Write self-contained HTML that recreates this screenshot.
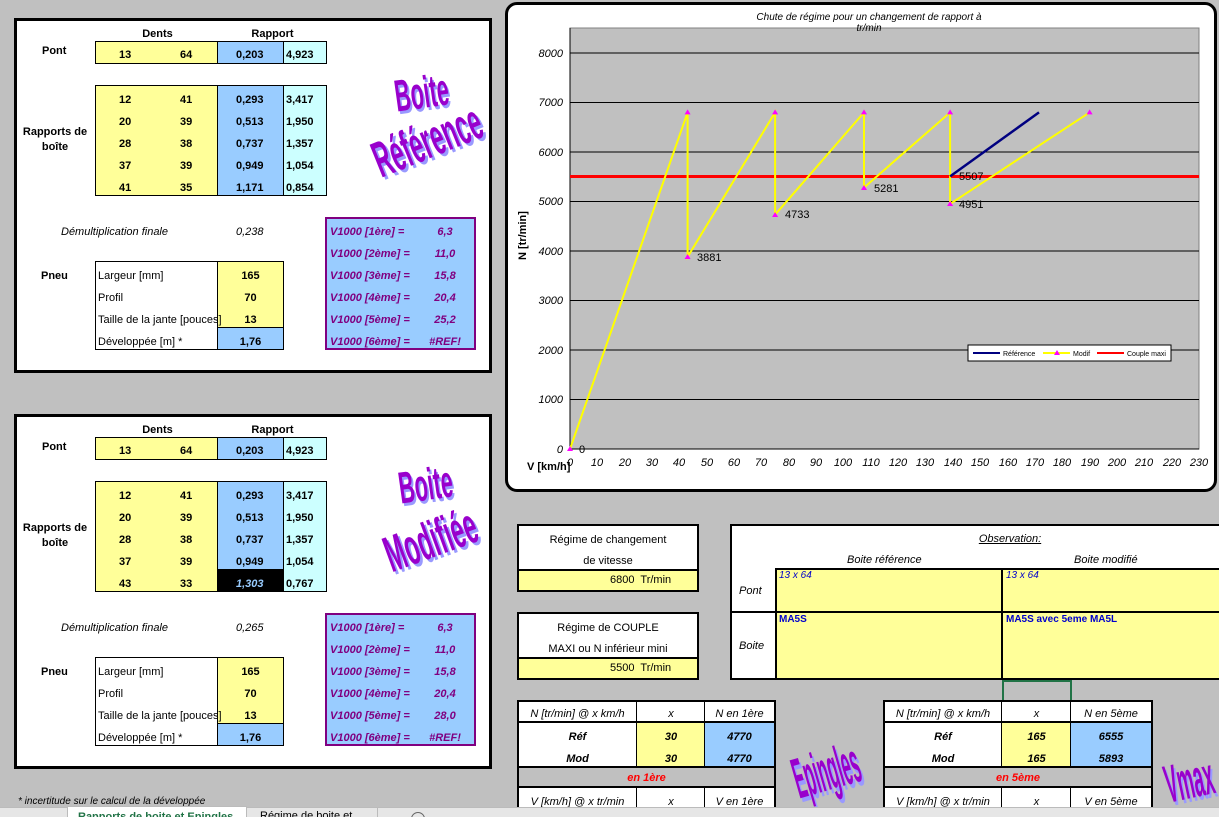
<!DOCTYPE html>
<html><head><meta charset="utf-8"><style>
*{margin:0;padding:0;box-sizing:border-box}
html{width:1219px;height:817px;overflow:hidden}
body{width:1219px;height:817px;background:#c0c0c0;position:relative;overflow:hidden;font-family:"Liberation Sans",Arial,sans-serif;font-size:11px;color:#000}
.a{position:absolute}
.b{font-weight:bold}
.i{font-style:italic}
.panel{position:absolute;left:14px;width:478px;height:355px;background:#fff;border:3px solid #000}
.y{background:#ffff99}.bl{background:#99ccff}.cy{background:#ccffff}
.c{text-align:center}
.wa{position:absolute;font-family:"Liberation Sans Narrow","Liberation Sans",sans-serif;font-weight:bold;color:#9900cc;text-shadow:2px 2px 0 #9999ff;line-height:1;white-space:nowrap}
.box{position:absolute;border:2px solid #000;background:#fff}
</style></head><body>

<div class="panel" style="top:18px"></div>
<div class="panel" style="top:414px"></div>

<div class="a" style="left:0;top:0;width:500px;height:400px">
<div class="a b c" style="left:120px;top:28px;width:75px">Dents</div>
<div class="a b c" style="left:235px;top:28px;width:75px">Rapport</div>
<div class="a b" style="left:42px;top:45px">Pont</div>
<div class="a y" style="left:95px;top:41px;width:122px;height:23px;border:1px solid #000;border-right:none"></div>
<div class="a bl" style="left:217px;top:41px;width:67px;height:23px;border:1px solid #000"></div>
<div class="a cy" style="left:283px;top:41px;width:44px;height:23px;border:1px solid #000"></div>
<div class="a b" style="left:119px;top:49px">13</div><div class="a b" style="left:180px;top:49px">64</div>
<div class="a b" style="left:236px;top:49px">0,203</div><div class="a b" style="left:286px;top:49px">4,923</div>

<div class="a b c" style="left:15px;top:125px;width:80px;line-height:15px">Rapports de<br>boîte</div>
<div class="a y" style="left:95px;top:85px;width:122px;height:111px;border:1px solid #000;border-right:none"></div>
<div class="a bl" style="left:217px;top:85px;width:67px;height:111px;border:1px solid #000"></div>
<div class="a cy" style="left:283px;top:85px;width:44px;height:111px;border:1px solid #000"></div>
<div class="a b" style="left:119px;top:89px;line-height:22px">12<br>20<br>28<br>37<br>41</div>
<div class="a b" style="left:180px;top:89px;line-height:22px">41<br>39<br>38<br>39<br>35</div>
<div class="a b" style="left:236px;top:89px;line-height:22px">0,293<br>0,513<br>0,737<br>0,949<br>1,171</div>
<div class="a b" style="left:286px;top:89px;line-height:22px">3,417<br>1,950<br>1,357<br>1,054<br>0,854</div>

<div class="a i" style="left:61px;top:226px">Démultiplication finale</div>
<div class="a i" style="left:236px;top:226px">0,238</div>
<div class="a b" style="left:41px;top:270px">Pneu</div>
<div class="a" style="left:95px;top:261px;width:122px;height:89px;border:1px solid #000;border-right:none"></div>
<div class="a y" style="left:217px;top:261px;width:67px;height:67px;border:1px solid #000;border-bottom:none"></div>
<div class="a bl" style="left:217px;top:327px;width:67px;height:23px;border:1px solid #000"></div>
<div class="a" style="left:98px;top:265px;line-height:22px">Largeur [mm]<br>Profil<br>Taille de la jante [pouces]<br>Développée [m] *</div>
<div class="a b c" style="left:217px;top:265px;width:67px;line-height:22px">165<br>70<br>13<br>1,76</div>
<div class="a bl" style="left:325px;top:217px;width:151px;height:133px;border:2px solid #800080"></div>
<div class="a b i" style="left:330px;top:221px;line-height:22px;color:#800080">V1000 [1ère] =<br>V1000 [2ème] =<br>V1000 [3ème] =<br>V1000 [4ème] =<br>V1000 [5ème] =<br>V1000 [6ème] =</div>
<div class="a b i c" style="left:420px;top:221px;width:50px;line-height:22px;color:#800080">6,3<br>11,0<br>15,8<br>20,4<br>25,2<br>#REF!</div>
<div class="wa" style="left:392px;top:76px;font-size:30px;transform:rotate(-8deg) scale(0.72,1.5);transform-origin:left top">Boite</div>
<div class="wa" style="left:366px;top:140px;font-size:30px;transform:rotate(-22deg) scale(0.78,1.7);transform-origin:left top">Référence</div>
</div>

<div class="a" style="left:0;top:396px;width:500px;height:400px">
<div class="a b c" style="left:120px;top:28px;width:75px">Dents</div>
<div class="a b c" style="left:235px;top:28px;width:75px">Rapport</div>
<div class="a b" style="left:42px;top:45px">Pont</div>
<div class="a y" style="left:95px;top:41px;width:122px;height:23px;border:1px solid #000;border-right:none"></div>
<div class="a bl" style="left:217px;top:41px;width:67px;height:23px;border:1px solid #000"></div>
<div class="a cy" style="left:283px;top:41px;width:44px;height:23px;border:1px solid #000"></div>
<div class="a b" style="left:119px;top:49px">13</div><div class="a b" style="left:180px;top:49px">64</div>
<div class="a b" style="left:236px;top:49px">0,203</div><div class="a b" style="left:286px;top:49px">4,923</div>

<div class="a b c" style="left:15px;top:125px;width:80px;line-height:15px">Rapports de<br>boîte</div>
<div class="a y" style="left:95px;top:85px;width:122px;height:111px;border:1px solid #000;border-right:none"></div>
<div class="a bl" style="left:217px;top:85px;width:67px;height:111px;border:1px solid #000"></div>
<div class="a" style="left:218px;top:173px;width:65px;height:22px;background:#000"></div>
<div class="a cy" style="left:283px;top:85px;width:44px;height:111px;border:1px solid #000"></div>
<div class="a b" style="left:119px;top:89px;line-height:22px">12<br>20<br>28<br>37<br>43</div>
<div class="a b" style="left:180px;top:89px;line-height:22px">41<br>39<br>38<br>39<br>33</div>
<div class="a b" style="left:236px;top:89px;line-height:22px">0,293<br>0,513<br>0,737<br>0,949<br><span class="i" style="color:#99ccff">1,303</span></div>
<div class="a b" style="left:286px;top:89px;line-height:22px">3,417<br>1,950<br>1,357<br>1,054<br>0,767</div>

<div class="a i" style="left:61px;top:226px">Démultiplication finale</div>
<div class="a i" style="left:236px;top:226px">0,265</div>
<div class="a b" style="left:41px;top:270px">Pneu</div>
<div class="a" style="left:95px;top:261px;width:122px;height:89px;border:1px solid #000;border-right:none"></div>
<div class="a y" style="left:217px;top:261px;width:67px;height:67px;border:1px solid #000;border-bottom:none"></div>
<div class="a bl" style="left:217px;top:327px;width:67px;height:23px;border:1px solid #000"></div>
<div class="a" style="left:98px;top:265px;line-height:22px">Largeur [mm]<br>Profil<br>Taille de la jante [pouces]<br>Développée [m] *</div>
<div class="a b c" style="left:217px;top:265px;width:67px;line-height:22px">165<br>70<br>13<br>1,76</div>
<div class="a bl" style="left:325px;top:217px;width:151px;height:133px;border:2px solid #800080"></div>
<div class="a b i" style="left:330px;top:221px;line-height:22px;color:#800080">V1000 [1ère] =<br>V1000 [2ème] =<br>V1000 [3ème] =<br>V1000 [4ème] =<br>V1000 [5ème] =<br>V1000 [6ème] =</div>
<div class="a b i c" style="left:420px;top:221px;width:50px;line-height:22px;color:#800080">6,3<br>11,0<br>15,8<br>20,4<br>28,0<br>#REF!</div>
<div class="wa" style="left:396px;top:72px;font-size:30px;transform:rotate(-8deg) scale(0.72,1.5);transform-origin:left top">Boite</div>
<div class="wa" style="left:378px;top:138px;font-size:30px;transform:rotate(-20deg) scale(0.78,1.7);transform-origin:left top">Modifiée</div>
</div>

<div class="a" style="left:505px;top:2px;width:712px;height:490px;background:#fff;border:3px solid #000;border-radius:12px"></div>
<svg class="a" style="left:0;top:0" width="1219" height="817" font-family="Liberation Sans, sans-serif">
<rect x="570" y="28" width="629" height="421" fill="#c0c0c0" stroke="#808080"/>
<g stroke="#000" stroke-width="1">
<line x1="570" x2="1199" y1="399.5" y2="399.5"/><line x1="570" x2="1199" y1="350" y2="350"/>
<line x1="570" x2="1199" y1="300.5" y2="300.5"/><line x1="570" x2="1199" y1="251" y2="251"/>
<line x1="570" x2="1199" y1="201.5" y2="201.5"/><line x1="570" x2="1199" y1="152" y2="152"/>
<line x1="570" x2="1199" y1="102.5" y2="102.5"/><line x1="570" x2="1199" y1="53" y2="53"/>
<line x1="570" x2="1199" y1="449" y2="449"/><line x1="570" x2="570" y1="28" y2="449"/>
</g>
<g font-size="11" font-style="italic" text-anchor="end">
<text x="563" y="453">0</text><text x="563" y="403">1000</text><text x="563" y="354">2000</text>
<text x="563" y="304">3000</text><text x="563" y="255">4000</text><text x="563" y="205">5000</text>
<text x="563" y="156">6000</text><text x="563" y="106">7000</text><text x="563" y="57">8000</text>
</g>
<g font-size="11" font-style="italic" text-anchor="middle">
<text x="570" y="466">0</text><text x="597" y="466">10</text><text x="625" y="466">20</text><text x="652" y="466">30</text><text x="679" y="466">40</text><text x="707" y="466">50</text><text x="734" y="466">60</text><text x="761" y="466">70</text><text x="789" y="466">80</text><text x="816" y="466">90</text><text x="843" y="466">100</text><text x="871" y="466">110</text><text x="898" y="466">120</text><text x="925" y="466">130</text><text x="953" y="466">140</text><text x="980" y="466">150</text><text x="1008" y="466">160</text><text x="1035" y="466">170</text><text x="1062" y="466">180</text><text x="1090" y="466">190</text><text x="1117" y="466">200</text><text x="1144" y="466">210</text><text x="1172" y="466">220</text><text x="1199" y="466">230</text>
</g>
<text x="869" y="20" font-size="10" font-style="italic" text-anchor="middle">Chute de régime pour un changement de rapport à</text>
<text x="869" y="31" font-size="10" font-style="italic" text-anchor="middle">tr/min</text>
<text x="527" y="470" font-size="11" font-weight="bold">V [km/h]</text>
<text transform="translate(526,260) rotate(-90)" font-size="11" font-weight="bold">N [tr/min]</text>
<line x1="570" x2="1199" y1="176.5" y2="176.5" stroke="#ff0000" stroke-width="3"/>
<polyline fill="none" stroke="#ffff00" stroke-width="2" points="570,449 687.6,112.4 687.6,256.9 775.1,112.4 775.1,214.7 864,112.4 864,187.6 950.1,112.4 950.1,203.9 1089.6,112.4"/>
<line x1="950.1" y1="176.4" x2="1039" y2="112.4" stroke="#000080" stroke-width="2.5"/>
<g fill="#ff00ff">
<path d="M570,446 l3,5 h-6z"/><path d="M687.6,109.4 l3,5 h-6z"/><path d="M687.6,254 l3,5 h-6z"/><path d="M775.1,109.4 l3,5 h-6z"/><path d="M775.1,212 l3,5 h-6z"/><path d="M864,109.4 l3,5 h-6z"/><path d="M864,185 l3,5 h-6z"/><path d="M950.1,109.4 l3,5 h-6z"/><path d="M950.1,201 l3,5 h-6z"/><path d="M1089.6,109.4 l3,5 h-6z"/>
</g>
<g font-size="11">
<text x="579" y="453">0</text><text x="697" y="261">3881</text><text x="785" y="218">4733</text><text x="874" y="192">5281</text><text x="959" y="180">5507</text><text x="959" y="208">4951</text>
</g>
<rect x="968" y="345" width="203" height="16" fill="#fff" stroke="#000"/>
<line x1="973" x2="1000" y1="353" y2="353" stroke="#000080" stroke-width="2"/>
<text x="1003" y="356" font-size="7">Référence</text>
<line x1="1043" x2="1070" y1="353" y2="353" stroke="#ffff00" stroke-width="2"/>
<path d="M1057,350 l3,5 h-6z" fill="#ff00ff"/>
<text x="1073" y="356" font-size="7">Modif</text>
<line x1="1097" x2="1124" y1="353" y2="353" stroke="#ff0000" stroke-width="2"/>
<text x="1127" y="356" font-size="7">Couple maxi</text>
</svg>

<div class="box" style="left:517px;top:524px;width:182px;height:68px"></div>
<div class="a y" style="left:519px;top:569px;width:178px;height:21px;border-top:2px solid #000"></div>
<div class="a c" style="left:517px;top:530px;width:182px;line-height:21px">Régime de changement<br>de vitesse</div>
<div class="a" style="left:610px;top:574px">6800&nbsp; Tr/min</div>

<div class="box" style="left:517px;top:612px;width:182px;height:68px"></div>
<div class="a y" style="left:519px;top:657px;width:178px;height:21px;border-top:2px solid #000"></div>
<div class="a c" style="left:517px;top:618px;width:182px;line-height:21px">Régime de COUPLE<br>MAXI ou N inférieur mini</div>
<div class="a" style="left:610px;top:662px">5500&nbsp; Tr/min</div>

<div class="box" style="left:730px;top:524px;width:492px;height:156px"></div>
<div class="a y" style="left:775px;top:568px;width:444px;height:110px;border-top:2px solid #000;border-left:2px solid #000"></div>
<div class="a" style="left:732px;top:611px;width:487px;border-top:2px solid #000"></div>
<div class="a" style="left:1001px;top:568px;height:110px;border-left:2px solid #000"></div>
<div class="a i c" style="left:930px;top:533px;width:160px;text-decoration:underline">Observation:</div>
<div class="a i" style="left:847px;top:554px">Boite référence</div>
<div class="a i" style="left:1074px;top:554px">Boite modifié</div>
<div class="a i" style="left:739px;top:585px">Pont</div>
<div class="a i" style="left:739px;top:640px">Boite</div>
<div class="a i" style="left:779px;top:570px;color:#0000cc;font-size:10px">13 x 64</div>
<div class="a i" style="left:1006px;top:570px;color:#0000cc;font-size:10px">13 x 64</div>
<div class="a b" style="left:779px;top:614px;color:#0000cc;font-size:10px">MA5S</div>
<div class="a b" style="left:1006px;top:614px;color:#0000cc;font-size:10px">MA5S avec 5eme MA5L</div>
<div class="a" style="left:1002px;top:680px;width:70px;height:22px;border:2px solid #217346"></div>

<div class="box" style="left:517px;top:700px;width:259px;height:130px;background:#fff"></div>
<div class="a y" style="left:637px;top:722px;width:68px;height:44px"></div>
<div class="a bl" style="left:705px;top:722px;width:69px;height:44px"></div>
<div class="a" style="left:519px;top:766px;width:255px;height:22px;background:#c0c0c0;border-top:2px solid #000;border-bottom:2px solid #000"></div>
<div class="a" style="left:519px;top:721px;width:255px;border-top:2px solid #000"></div>
<div class="a" style="left:636px;top:700px;height:66px;border-left:1px solid #000"></div>
<div class="a" style="left:704px;top:700px;height:66px;border-left:1px solid #000"></div>
<div class="a" style="left:636px;top:788px;height:30px;border-left:1px solid #000"></div>
<div class="a" style="left:704px;top:788px;height:30px;border-left:1px solid #000"></div>
<div class="a i c" style="left:519px;top:708px;width:117px">N [tr/min] @ x km/h</div>
<div class="a i c" style="left:637px;top:708px;width:68px">x</div>
<div class="a i c" style="left:705px;top:708px;width:69px">N en 1ère</div>
<div class="a b i c" style="left:519px;top:726px;width:117px;line-height:22px">Réf<br>Mod</div>
<div class="a b i c" style="left:637px;top:726px;width:68px;line-height:22px">30<br>30</div>
<div class="a b i c" style="left:705px;top:726px;width:69px;line-height:22px">4770<br>4770</div>
<div class="a b i c" style="left:519px;top:772px;width:255px;color:#ff0000">en 1ère</div>
<div class="a i c" style="left:519px;top:796px;width:117px">V [km/h] @ x tr/min</div>
<div class="a i c" style="left:637px;top:796px;width:68px">x</div>
<div class="a i c" style="left:705px;top:796px;width:69px">V en 1ère</div>

<div class="box" style="left:883px;top:700px;width:270px;height:130px;background:#fff"></div>
<div class="a y" style="left:1002px;top:722px;width:69px;height:44px"></div>
<div class="a bl" style="left:1071px;top:722px;width:80px;height:44px"></div>
<div class="a" style="left:885px;top:766px;width:266px;height:22px;background:#c0c0c0;border-top:2px solid #000;border-bottom:2px solid #000"></div>
<div class="a" style="left:885px;top:721px;width:266px;border-top:2px solid #000"></div>
<div class="a" style="left:1001px;top:700px;height:66px;border-left:1px solid #000"></div>
<div class="a" style="left:1070px;top:700px;height:66px;border-left:1px solid #000"></div>
<div class="a" style="left:1001px;top:788px;height:30px;border-left:1px solid #000"></div>
<div class="a" style="left:1070px;top:788px;height:30px;border-left:1px solid #000"></div>
<div class="a i c" style="left:885px;top:708px;width:116px">N [tr/min] @ x km/h</div>
<div class="a i c" style="left:1002px;top:708px;width:69px">x</div>
<div class="a i c" style="left:1071px;top:708px;width:80px">N en 5ème</div>
<div class="a b i c" style="left:885px;top:726px;width:116px;line-height:22px">Réf<br>Mod</div>
<div class="a b i c" style="left:1002px;top:726px;width:69px;line-height:22px">165<br>165</div>
<div class="a b i c" style="left:1071px;top:726px;width:80px;line-height:22px">6555<br>5893</div>
<div class="a b i c" style="left:885px;top:772px;width:266px;color:#ff0000">en 5ème</div>
<div class="a i c" style="left:885px;top:796px;width:116px">V [km/h] @ x tr/min</div>
<div class="a i c" style="left:1002px;top:796px;width:69px">x</div>
<div class="a i c" style="left:1071px;top:796px;width:80px">V en 5ème</div>

<div class="wa" style="left:786px;top:752px;font-size:26px;transform:rotate(-16deg) scale(0.62,2.2);transform-origin:left top">Epingles</div>
<div class="wa" style="left:1160px;top:760px;font-size:28px;transform:rotate(-12deg) scale(0.65,1.9);transform-origin:left top">Vmax</div>

<div class="a i" style="left:18px;top:796px;font-size:10px">* incertitude sur le calcul de la développée</div>

<div class="a" style="left:0;top:807px;width:1219px;height:10px;background:#e6e6e6;border-top:1px solid #bbb"></div>
<div class="a b" style="left:67px;top:806px;width:180px;height:11px;background:#fff;border:1px solid #bbb;border-bottom:none;color:#217346;font-size:11px;padding-left:10px;overflow:hidden;line-height:20px">Rapports de boite et Epingles</div>
<div class="a" style="left:248px;top:807px;width:130px;height:10px;border-right:1px solid #bbb;font-size:11px;padding-left:12px;overflow:hidden;line-height:18px">Régime de boite et vmax</div>
<div class="a" style="left:411px;top:812px;width:14px;height:14px;border:1px solid #666;border-radius:50%"></div>
</body></html>
